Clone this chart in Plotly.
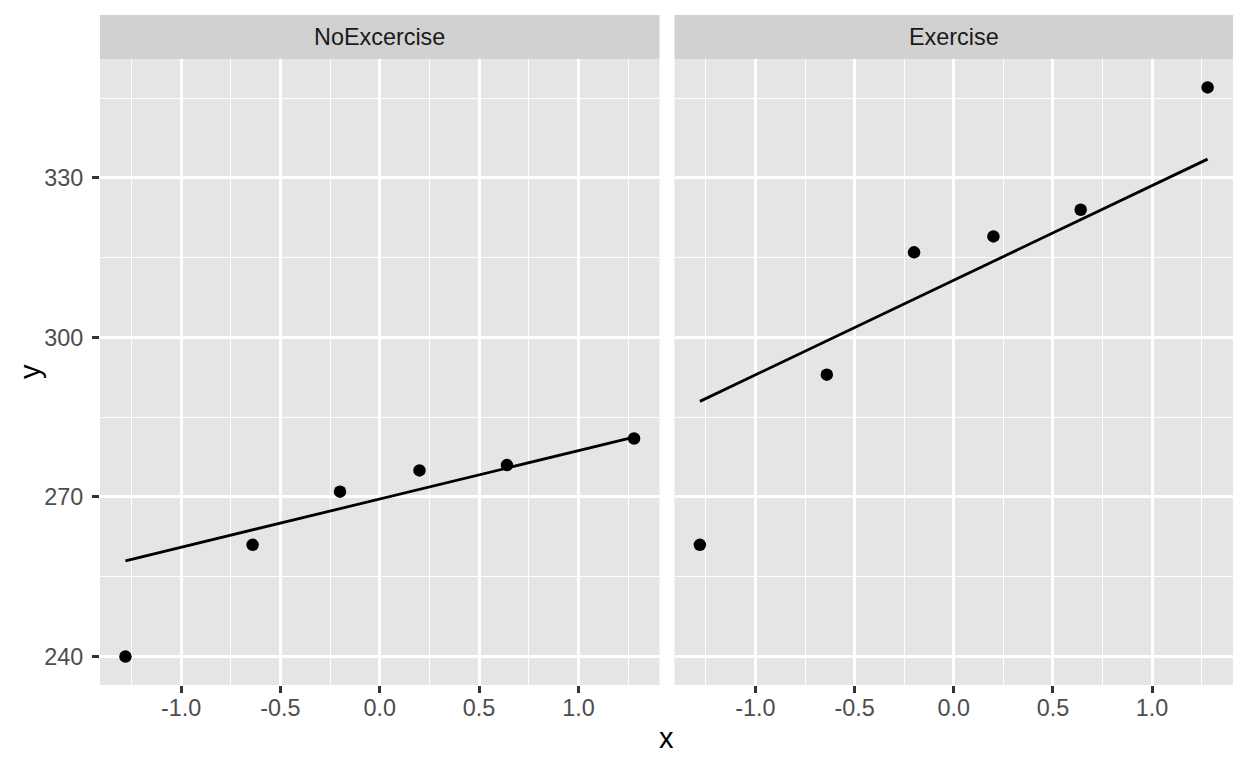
import numpy as np
import plotly.graph_objects as go

# ---- data ----
panels = ["NoExcercise", "Exercise"]
theoretical = [-1.28, -0.64, -0.20, 0.20, 0.64, 1.28]
y_noexercise = [240, 261, 271, 275, 276, 281]
y_exercise = [261, 293, 316, 319, 324, 347]
x_ticks = [-1.0, -0.5, 0.0, 0.5, 1.0]
x_ticklabels = ["-1.0", "-0.5", "0.0", "0.5", "1.0"]
y_ticks = [240, 270, 300, 330]
y_ticklabels = ["240", "270", "300", "330"]

W, H = 1248, 768
PANEL_BG = "#E5E5E5"
STRIP_BG = "#D1D1D1"
FONT = "Liberation Sans, Arial, sans-serif"
TXT = 23.4
LW = 2.8

def qq_line(y):
    y = np.asarray(y, float)
    q1, q3 = np.quantile(y, [0.25, 0.75])
    t1, t3 = -0.6744897501960817, 0.6744897501960817
    slope = (q3 - q1) / (t3 - t1)
    inter = q1 - slope * t1
    xs = np.array([min(theoretical), max(theoretical)])
    return xs, inter + slope * xs

series = [y_noexercise, y_exercise]

fig = go.Figure()
all_y = []
for i, ys in enumerate(series):
    xa = "x" if i == 0 else "x2"
    ya = "y" if i == 0 else "y2"
    lx, ly = qq_line(ys)
    all_y += list(ys) + list(ly)
    fig.add_trace(go.Scatter(x=theoretical, y=ys, mode="markers", xaxis=xa, yaxis=ya,
                             marker=dict(color="black", size=12.5), showlegend=False))
    fig.add_trace(go.Scatter(x=lx, y=ly, mode="lines", xaxis=xa, yaxis=ya,
                             line=dict(color="black", width=LW), showlegend=False))

xr = max(theoretical) - min(theoretical)
x_range = [min(theoretical) - 0.05 * xr, max(theoretical) + 0.05 * xr]
yr = max(all_y) - min(all_y)
y_range = [min(all_y) - 0.05 * yr, max(all_y) + 0.05 * yr]

# layout geometry (pixels -> paper)
left1, right1 = 100 / W, 659.5 / W
left2, right2 = 674.5 / W, 1233 / W
bottom, top = 1 - 685 / H, 1 - 59 / H
strip_top = 1 - 15 / H

tickfont = dict(family=FONT, size=TXT, color="#4D4D4D")

def xaxis(domain, anchor):
    return dict(domain=domain, anchor=anchor, range=x_range, tickvals=x_ticks,
                ticktext=x_ticklabels, showgrid=True, gridcolor="white", gridwidth=LW,
                zeroline=False, showline=False, ticks="outside", ticklen=7, tickwidth=LW,
                tickcolor="#333333", tickfont=tickfont, ticklabelstandoff=-5,
                minor=dict(dtick=0.25, tick0=0, showgrid=True, gridcolor="white",
                           gridwidth=1.4, ticks=""),
                fixedrange=True)

def yaxis(anchor, show_labels):
    d = dict(domain=[bottom, top], anchor=anchor, range=y_range, tickvals=y_ticks,
             ticktext=y_ticklabels, showgrid=True, gridcolor="white", gridwidth=LW,
             zeroline=False, showline=False, tickfont=tickfont,
             minor=dict(dtick=15, tick0=0, showgrid=True, gridcolor="white",
                        gridwidth=1.4, ticks=""),
             fixedrange=True)
    if show_labels:
        d.update(ticks="outside", ticklen=7, tickwidth=LW, tickcolor="#333333",
                 ticklabelstandoff=4)
    else:
        d.update(ticks="", showticklabels=False)
    return d

shapes = []
annotations = []
for (l, r), name in zip([(left1, right1), (left2, right2)], panels):
    shapes.append(dict(type="rect", xref="paper", yref="paper", x0=l, x1=r, y0=bottom, y1=top,
                       fillcolor=PANEL_BG, line=dict(width=0), layer="below"))
    shapes.append(dict(type="rect", xref="paper", yref="paper", x0=l, x1=r, y0=top, y1=strip_top,
                       fillcolor=STRIP_BG, line=dict(width=0), layer="below"))
    annotations.append(dict(text=name, xref="paper", yref="paper", x=(l + r) / 2,
                            y=(top + strip_top) / 2, showarrow=False, xanchor="center",
                            yanchor="middle",
                            font=dict(family=FONT, size=TXT, color="#1A1A1A")))

annotations.append(dict(text="x", xref="paper", yref="paper", x=(left1 + right2) / 2,
                        y=1 - 738 / H, showarrow=False, xanchor="center", yanchor="middle",
                        font=dict(family=FONT, size=29, color="black")))
annotations.append(dict(text="y", xref="paper", yref="paper", x=30 / W,
                        y=(bottom + top) / 2, showarrow=False, xanchor="center",
                        yanchor="middle", textangle=-90,
                        font=dict(family=FONT, size=29, color="black")))

fig.update_layout(
    width=W, height=H,
    margin=dict(l=0, r=0, t=0, b=0),
    paper_bgcolor="white", plot_bgcolor="rgba(0,0,0,0)",
    xaxis=xaxis([left1, right1], "y"),
    xaxis2=xaxis([left2, right2], "y2"),
    yaxis=yaxis("x", True),
    yaxis2=yaxis("x2", False),
    shapes=shapes, annotations=annotations,
    showlegend=False,
)

fig.write_html("out.html", config={"displayModeBar": False},
               post_script="document.body.style.margin='0';document.body.style.padding='0';")
